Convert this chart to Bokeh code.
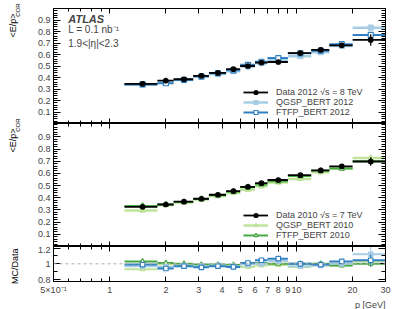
import math
from bokeh.plotting import figure
from bokeh.models import (FixedTicker, LogAxis, LinearAxis, Range1d, Label,
                          Legend, LegendItem, Span, ColumnDataSource,
                          CustomLabelingPolicy, Title)
from bokeh.layouts import column, row
from bokeh.embed import file_html
from bokeh.resources import INLINE

# ---------------- data ----------------
bin_lo = [1.2, 1.8, 2.2, 2.8, 3.4, 4.2, 5.0, 6.0, 7.0, 9.0, 12.0, 15.0, 20.0]
bin_hi = [1.8, 2.2, 2.8, 3.4, 4.2, 5.0, 6.0, 7.0, 9.0, 12.0, 15.0, 20.0, 30.0]

data2012 = [0.345, 0.372, 0.385, 0.415, 0.440, 0.472, 0.500, 0.530, 0.535, 0.612, 0.640, 0.680, 0.727]
data2012_err = [0.004, 0.004, 0.004, 0.004, 0.004, 0.005, 0.005, 0.006, 0.006, 0.008, 0.010, 0.014, 0.050]
qgsp2012 = [0.340, 0.355, 0.378, 0.410, 0.430, 0.455, 0.495, 0.525, 0.550, 0.585, 0.620, 0.675, 0.833]
qgsp2012_err = [0.003, 0.003, 0.003, 0.003, 0.003, 0.004, 0.004, 0.004, 0.005, 0.006, 0.008, 0.010, 0.020]
ftfp2012 = [0.340, 0.350, 0.380, 0.408, 0.437, 0.462, 0.510, 0.537, 0.569, 0.610, 0.633, 0.690, 0.770]
ftfp2012_err = [0.003, 0.003, 0.003, 0.003, 0.003, 0.004, 0.004, 0.004, 0.005, 0.006, 0.008, 0.010, 0.020]

data2010 = [0.326, 0.345, 0.368, 0.392, 0.425, 0.455, 0.490, 0.520, 0.546, 0.586, 0.625, 0.658, 0.698]
data2010_err = [0.004, 0.004, 0.004, 0.004, 0.004, 0.005, 0.005, 0.006, 0.006, 0.008, 0.010, 0.012, 0.035]
qgsp2010 = [0.295, 0.340, 0.362, 0.385, 0.415, 0.440, 0.465, 0.495, 0.525, 0.555, 0.610, 0.640, 0.726]
qgsp2010_err = [0.003, 0.003, 0.003, 0.003, 0.003, 0.004, 0.004, 0.004, 0.005, 0.006, 0.008, 0.010, 0.015]
ftfp2010 = [0.333, 0.345, 0.366, 0.390, 0.420, 0.450, 0.486, 0.510, 0.535, 0.578, 0.622, 0.640, 0.700]
ftfp2010_err = [0.003, 0.003, 0.003, 0.003, 0.003, 0.004, 0.004, 0.004, 0.005, 0.006, 0.008, 0.010, 0.015]

r_qgsp2010 = [0.93, 0.99, 0.99, 0.98, 0.98, 0.97, 0.96, 0.98, 0.985, 0.96, 0.98, 0.98, 1.035]
r_ftfp2010 = [1.03, 1.01, 1.00, 0.99, 0.99, 0.985, 1.00, 1.01, 1.00, 1.00, 1.00, 0.98, 1.00]
r_qgsp2012 = [0.97, 0.96, 0.98, 0.97, 0.98, 0.97, 0.99, 1.00, 1.035, 0.97, 0.98, 1.00, 1.12]
r_ftfp2012 = [0.99, 0.94, 0.97, 0.955, 0.97, 0.96, 1.01, 1.045, 1.065, 1.00, 0.99, 1.03, 1.045]
r_qgsp2010_err = [0.01, 0.01, 0.01, 0.01, 0.01, 0.01, 0.01, 0.01, 0.01, 0.015, 0.015, 0.02, 0.04]
r_ftfp2010_err = [0.01, 0.01, 0.01, 0.01, 0.01, 0.01, 0.01, 0.01, 0.01, 0.015, 0.015, 0.02, 0.04]
r_qgsp2012_err = [0.01, 0.01, 0.01, 0.01, 0.01, 0.01, 0.01, 0.01, 0.01, 0.015, 0.015, 0.02, 0.10]
r_ftfp2012_err = [0.01, 0.01, 0.01, 0.01, 0.01, 0.01, 0.01, 0.01, 0.01, 0.015, 0.015, 0.02, 0.07]

x_ticks = [0.5, 1, 2, 3, 4, 5, 6, 7, 8, 9, 10, 20, 30]
x_tick_labels = ["5×10⁻¹", "1", "2", "3", "4", "5", "6", "7", "8", "9", "10", "20", "30"]
x_minor = [0.6, 0.7, 0.8, 0.9]
y_ticks = [0.1, 0.2, 0.3, 0.4, 0.5, 0.6, 0.7, 0.8, 0.9]
y_tick_labels = ["0.1", "0.2", "0.3", "0.4", "0.5", "0.6", "0.7", "0.8", "0.9"]
r_ticks = [0.8, 1.0, 1.2]
r_tick_labels = ["0.8", "1", "1.2"]

C_DATA = "#000000"
C_Q12 = "#a6cde6"
C_F12 = "#2f7fc1"
C_Q10 = "#bfe39a"
C_F10 = "#45a83f"

FONT = "Liberation Sans"
FW = 332
LW = 22            # width of the strip holding the rotated y titles
BL, BR = 53 - LW, 24


def centers():
    return [(a + b) / 2.0 for a, b in zip(bin_lo, bin_hi)]


def no_labels():
    return CustomLabelingPolicy(code="return []")


def make_fig(fh, yr, border_top, border_bottom):
    p = figure(frame_width=FW, frame_height=fh, x_axis_type="log",
               x_range=Range1d(0.5, 30), y_range=Range1d(*yr),
               output_backend="svg", toolbar_location=None,
               x_axis_location=None, y_axis_location=None,
               min_border_left=BL, min_border_right=BR,
               min_border_top=border_top, min_border_bottom=border_bottom)
    p.outline_line_color = "black"
    p.outline_line_width = 1
    p.grid.visible = False
    p.background_fill_color = "white"
    p.border_fill_color = "white"
    return p


def add_x_axes(p, labels_below):
    xt = FixedTicker(ticks=x_ticks, minor_ticks=x_minor)
    for side in ("above", "below"):
        ax = LogAxis(ticker=xt)
        ax.major_tick_in = 5
        ax.major_tick_out = 0
        ax.minor_tick_in = 3
        ax.minor_tick_out = 0
        ax.axis_line_color = "black"
        if side == "below" and labels_below:
            ax.major_label_overrides = {t: l for t, l in zip(x_ticks, x_tick_labels)}
            ax.major_label_text_font = FONT
            ax.major_label_text_font_size = "9px"
            ax.major_label_standoff = 3
        else:
            ax.major_label_policy = no_labels()
            ax.major_label_text_font_size = "0px"
            ax.major_label_standoff = 0
        p.add_layout(ax, side)


def add_y_axes(p, ticks, labels, minor):
    yt = FixedTicker(ticks=ticks, minor_ticks=minor)
    for side in ("left", "right"):
        ax = LinearAxis(ticker=yt)
        ax.major_tick_in = 7
        ax.major_tick_out = 0
        ax.minor_tick_in = 4
        ax.minor_tick_out = 0
        ax.axis_line_color = "black"
        if side == "left":
            ax.major_label_overrides = {t: l for t, l in zip(ticks, labels)}
            ax.major_label_text_font = FONT
            ax.major_label_text_font_size = "9px"
            ax.major_label_standoff = 3
        else:
            ax.major_label_policy = no_labels()
            ax.major_label_text_font_size = "0px"
            ax.major_label_standoff = 0
        p.add_layout(ax, side)


def series(p, y, err, color, marker, fill, lw, size):
    xc = centers()
    src = ColumnDataSource(dict(x=xc, lo=bin_lo, hi=bin_hi, y=y,
                                ylo=[a - e for a, e in zip(y, err)],
                                yhi=[a + e for a, e in zip(y, err)]))
    seg = p.segment(x0="lo", x1="hi", y0="y", y1="y", source=src,
                    line_color=color, line_width=lw)
    p.segment(x0="x", x1="x", y0="ylo", y1="yhi", source=src,
              line_color=color, line_width=1.2)
    sc = p.scatter(x="x", y="y", source=src, marker=marker, size=size,
                   line_color=color, fill_color=(color if fill else "white"),
                   line_width=1.2)
    return [seg, sc]


def legend(p, items):
    lg = Legend(items=[LegendItem(label=l, renderers=r) for l, r in items],
                location=(190, 6), orientation="vertical",
                background_fill_alpha=0, border_line_alpha=0,
                padding=0, margin=0, spacing=0,
                glyph_width=25, glyph_height=10, label_height=10,
                label_standoff=8, label_text_font=FONT,
                label_text_font_size="9px")
    p.add_layout(lg)


# ---------------- top panel (2012) ----------------
H1 = 115
p1 = make_fig(H1, (0.0, 1.0), 8, 0)
add_x_axes(p1, False)
add_y_axes(p1, y_ticks, y_tick_labels, [i / 50 for i in range(1, 50)])
q12 = series(p1, qgsp2012, qgsp2012_err, C_Q12, "square", True, 2.5, 5)
f12 = series(p1, ftfp2012, ftfp2012_err, C_F12, "square", False, 2.0, 5)
d12 = series(p1, data2012, data2012_err, C_DATA, "circle", True, 1.8, 4.5)
legend(p1, [("Data 2012 √s = 8 TeV", d12), ("QGSP_BERT 2012", q12),
            ("FTFP_BERT 2012", f12)])
p1.add_layout(Label(x=0.6, y=0.905, text="ATLAS", text_font=FONT,
                    text_font_size="11px", text_font_style="bold italic",
                    text_baseline="middle"))
p1.add_layout(Label(x=0.6, y=0.815, text="L = 0.1 nb⁻¹", text_font=FONT,
                    text_font_size="10px", text_baseline="middle"))
p1.add_layout(Label(x=0.6, y=0.695, text="1.9<|η|<2.3", text_font=FONT,
                    text_font_size="10px", text_baseline="middle"))

# ---------------- middle panel (2010) ----------------
H2 = 123
p2 = make_fig(H2, (0.0, 1.01), 0, 0)
add_x_axes(p2, False)
add_y_axes(p2, y_ticks, y_tick_labels, [i / 50 for i in range(1, 51)])
q10 = series(p2, qgsp2010, qgsp2010_err, C_Q10, "triangle", True, 2.5, 5.5)
f10 = series(p2, ftfp2010, ftfp2010_err, C_F10, "triangle", False, 2.0, 5.5)
d10 = series(p2, data2010, data2010_err, C_DATA, "circle", True, 1.8, 4.5)
legend(p2, [("Data 2010 √s = 7 TeV", d10), ("QGSP_BERT 2010", q10),
            ("FTFP_BERT 2010", f10)])

# ---------------- ratio panel ----------------
H3 = 35
p3 = make_fig(H3, (0.775, 1.22), 0, 10)
add_x_axes(p3, True)
add_y_axes(p3, r_ticks, r_tick_labels, [0.9, 1.1])
p3.add_layout(Span(location=1.0, dimension="width", line_color="#b0b0b0",
                   line_dash="3 3", line_width=1))
series(p3, r_qgsp2010, r_qgsp2010_err, C_Q10, "triangle", True, 2.0, 5)
series(p3, r_ftfp2010, r_ftfp2010_err, C_F10, "triangle", False, 2.0, 5)
series(p3, r_qgsp2012, r_qgsp2012_err, C_Q12, "square", True, 2.0, 4.5)
series(p3, r_ftfp2012, r_ftfp2012_err, C_F12, "square", False, 2.0, 4.5)
p3.add_layout(Title(text="p [GeV]", align="right", text_font=FONT,
                    text_font_size="9px", text_font_style="normal",
                    standoff=0, offset=0), "below")

# ---------------- strip with the rotated y-axis titles ----------------
HT = 300
strip = figure(frame_width=LW, frame_height=HT, x_range=Range1d(0, 1),
               y_range=Range1d(0, 1), output_backend="svg",
               toolbar_location=None, x_axis_location=None,
               y_axis_location=None, min_border=0)
strip.outline_line_color = None
strip.grid.visible = False
strip.background_fill_color = "white"
strip.border_fill_color = "white"


def ytitle(main, sub, top_y, x_main):
    # top_y: page y where the (upward reading) main text ends
    strip.add_layout(Label(x=x_main, y=HT - top_y, x_units="screen",
                           y_units="screen", text=main, angle=math.pi / 2,
                           text_align="right", text_baseline="middle",
                           text_font=FONT, text_font_size="9px",
                           text_color="black"))
    if sub:
        strip.add_layout(Label(x=x_main + 5, y=HT - top_y + 10,
                               x_units="screen", y_units="screen", text=sub,
                               angle=math.pi / 2, text_align="right",
                               text_baseline="middle", text_font=FONT,
                               text_font_size="6px", text_color="black"))


ytitle("<E/p>", "COR", 13, 12)
ytitle("<E/p>", "COR", 128, 12)
ytitle("MC/Data", None, 248, 14)

layout = row(strip, column(p1, p2, p3, spacing=0), spacing=0)
open("out.html", "w").write(file_html(layout, INLINE))
